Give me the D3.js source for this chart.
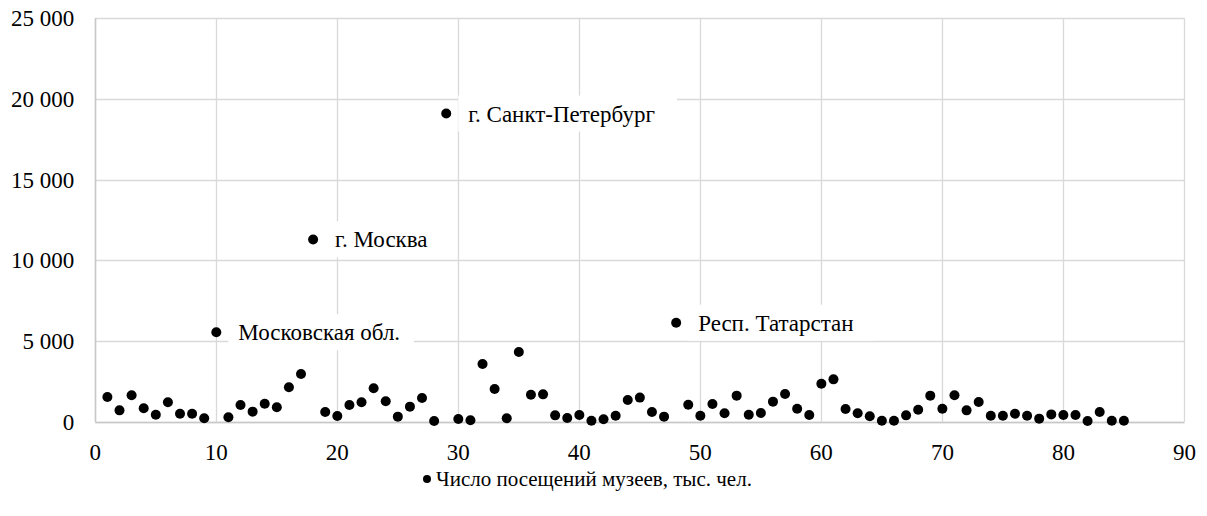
<!DOCTYPE html>
<html>
<head>
<meta charset="utf-8">
<script src="https://cdn.jsdelivr.net/npm/d3@7"></script>
</head>
<body style="margin:0">
<svg id="chart" width="1207" height="516"></svg>
<script>
// region number (1..85) and museum visits, thousands
const regionNo = d3.range(1, 86);
const visits = [
  1540, 710, 1640, 840, 440, 1210, 500, 500, 215, 5550,
  280, 1040, 630, 1120, 900, 2140, 2960, 11300, 610, 360,
  1040, 1210, 2080, 1270, 320, 940, 1480, 50, 19100, 175,
  95, 3580, 2030, 215, 4320, 1680, 1700, 400, 235, 420,
  70, 155, 380, 1350, 1500, 610, 320, 6140, 1060, 380,
  1100, 525, 1620, 440, 545, 1250, 1720, 810, 420, 2360,
  2630, 790, 525, 340, 70, 70, 400, 750, 1620, 810,
  1640, 710, 1230, 380, 380, 500, 380, 195, 460, 420,
  420, 50, 610, 70, 70
];
const labelRegions = [10, 18, 29, 48];
const labelTexts = ["Московская обл.", "г. Москва", "г. Санкт-Петербург", "Респ. Татарстан"];
const xTicks = d3.range(0, 91, 10);
const yTicks = d3.range(0, 25001, 5000);
const seriesName = "Число посещений музеев, тыс. чел.";

const width = 1207, height = 516;
const margin = { top: 18.3, left: 95.3, right: 22.6, bottom: 94.2 };
const fontSize = 23;
const gridColor = "#d9d9d9";

const svg = d3.select("#chart");

const x = d3.scaleLinear().domain([0, 90]).range([margin.left, width - margin.right]);
const y = d3.scaleLinear().domain([0, 25000]).range([height - margin.bottom, margin.top]);

// "25 000" style ticks
const fmt = d => d3.format(",d")(d).replace(/,/g, " ");

function serif(sel, size) {
  sel.style("font-family", '"Liberation Serif"').attr("font-size", size).attr("fill", "#000");
}

// gridlines
svg.selectAll("line.gy").data(yTicks).join("line").attr("class", "gy")
  .attr("x1", margin.left).attr("x2", width - margin.right)
  .attr("y1", d => Math.round(y(d)) + 0.5).attr("y2", d => Math.round(y(d)) + 0.5)
  .attr("stroke", gridColor).attr("stroke-width", 1.3);

svg.selectAll("line.gx").data(xTicks).join("line").attr("class", "gx")
  .attr("x1", d => Math.round(x(d)) + 0.5).attr("x2", d => Math.round(x(d)) + 0.5)
  .attr("y1", margin.top).attr("y2", height - margin.bottom)
  .attr("stroke", gridColor).attr("stroke-width", 1.3);

// x tick labels
svg.selectAll("text.tx").data(xTicks).join("text").attr("class", "tx")
  .attr("x", d => x(d))
  .attr("y", y(0) + 38)
  .attr("text-anchor", "middle")
  .call(serif, fontSize)
  .text(d => d);

// y tick labels
svg.selectAll("text.ty").data(yTicks).join("text").attr("class", "ty")
  .attr("x", margin.left - 21)
  .attr("y", d => y(d) + 8)
  .attr("text-anchor", "end")
  .call(serif, fontSize)
  .text(fmt);

// axis lines
svg.append("line")
  .attr("x1", margin.left).attr("x2", width - margin.right)
  .attr("y1", Math.round(y(0)) + 0.5).attr("y2", Math.round(y(0)) + 0.5)
  .attr("stroke", "#c8c8c8").attr("stroke-width", 1.5);
svg.append("line")
  .attr("x1", Math.round(x(0)) + 0.5).attr("x2", Math.round(x(0)) + 0.5)
  .attr("y1", margin.top).attr("y2", y(0))
  .attr("stroke", "#c8c8c8").attr("stroke-width", 1.5);

// data labels on white boxes (box width estimated, no layout query)
const labelData = labelRegions.map((r, i) => ({ r, v: visits[r - 1], t: labelTexts[i] }));
svg.selectAll("rect.lb").data(labelData).join("rect").attr("class", "lb")
  .attr("x", d => x(d.r) + 12)
  .attr("y", d => y(d.v) - 18)
  .attr("width", d => d.t.length * fontSize * 0.48 + 20)
  .attr("height", 36)
  .attr("fill", "#fff");
svg.selectAll("text.lt").data(labelData).join("text").attr("class", "lt")
  .attr("x", d => x(d.r) + 22)
  .attr("y", d => y(d.v) + 8)
  .call(serif, fontSize)
  .text(d => d.t);

// points
svg.selectAll("circle.pt").data(regionNo).join("circle").attr("class", "pt")
  .attr("cx", d => x(d))
  .attr("cy", (d, i) => y(visits[i]))
  .attr("r", 5)
  .attr("fill", "#000");

// legend
svg.append("circle").attr("cx", 427).attr("cy", 479).attr("r", 4).attr("fill", "#000");
svg.append("text")
  .attr("x", 436).attr("y", 486)
  .call(serif, 21)
  .text(seriesName);
</script>
</body>
</html>
